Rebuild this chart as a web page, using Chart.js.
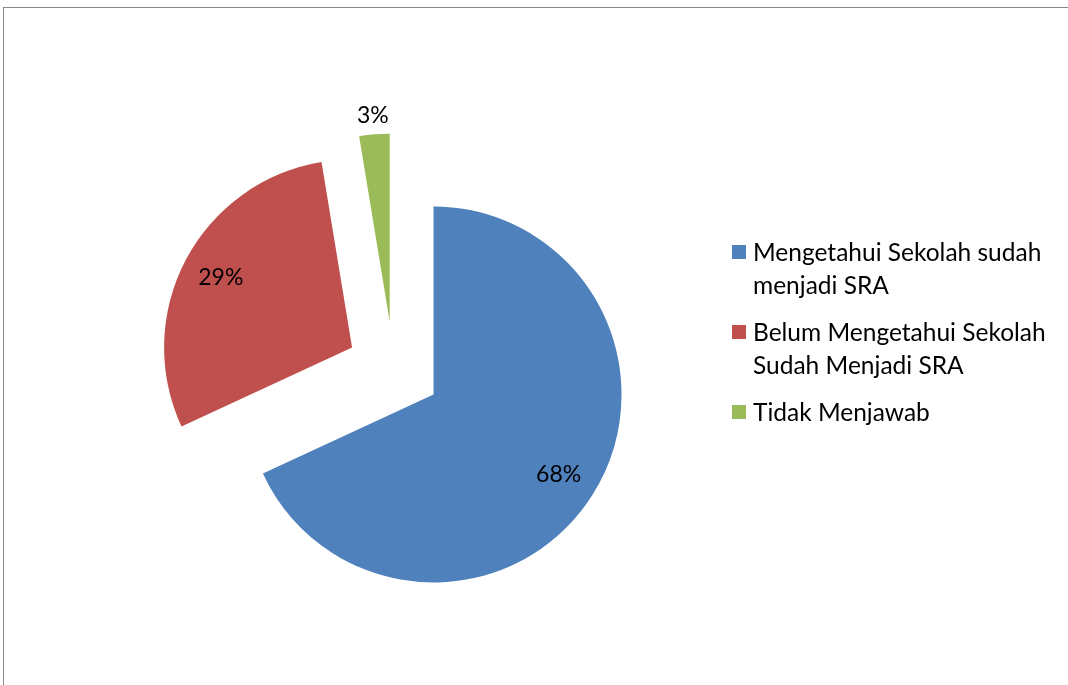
<!DOCTYPE html>
<html>
<head>
<meta charset="utf-8">
<script src="https://cdn.jsdelivr.net/npm/chart.js@4/dist/chart.umd.min.js"></script>
<style type="text/css">
    body { margin: 0; background: #fff; }
    #frame {
        position: absolute; left: 3px; top: 7px;
        width: 1090px; height: 700px;
        border: 1px solid #878787;
    }
    #wrap { position: absolute; left: 0; top: 0; width: 1068px; height: 685px; }
    #legend {
        position: absolute; left: 732px; top: 235px;
        font-family: Lato, sans-serif; font-size: 24.5px; line-height: 33px; color: #000;
    }
    #legend .item { display: flex; align-items: flex-start; margin-bottom: 14px; }
    #legend .box { width: 14px; height: 14px; margin-top: 10px; margin-right: 7px; flex: none; }
    #legend .txt { width: 310px; }
</style>
</head>
<body>
<div id="frame"></div>
<div id="wrap"><canvas id="pieChart" width="1068" height="685"></canvas></div>
<div id="legend"></div>

<script type="text/javascript">
const categories = ['Mengetahui Sekolah sudah menjadi SRA', 'Belum Mengetahui Sekolah Sudah Menjadi SRA', 'Tidak Menjawab'];
const values = [68.1, 29.3, 2.6];
const colors = ['#4f81bd', '#c0504d', '#9bbb59'];

// exploded slices: distance (px) and direction (degrees clockwise from 12 o'clock)
const explodeDist = [0, 94, 85];
const explodeDir = [0, 300, 329];
// where the percent label sits, as a fraction of the radius
const labelRadius = [0.79, 0.79, 1.1];

const total = values.reduce((a, b) => a + b, 0);

const explodePlugin = {
    id: 'explode',
    afterDatasetUpdate(chart, args) {
        args.meta.data.forEach(function (arc, i) {
            const a = explodeDir[i] * Math.PI / 180;
            arc.x += Math.sin(a) * explodeDist[i];
            arc.y -= Math.cos(a) * explodeDist[i];
        });
    }
};

const labelPlugin = {
    id: 'pctLabels',
    afterDatasetsDraw(chart) {
        const ctx = chart.ctx;
        const meta = chart.getDatasetMeta(0);
        ctx.save();
        ctx.font = '23px Lato, sans-serif';
        ctx.fillStyle = '#000';
        ctx.textAlign = 'center';
        ctx.textBaseline = 'middle';
        meta.data.forEach(function (arc, i) {
            const mid = (arc.startAngle + arc.endAngle) / 2;
            const r = arc.outerRadius * labelRadius[i];
            const pct = Math.round(values[i] / total * 100) + '%';
            ctx.fillText(pct, arc.x + Math.cos(mid) * r, arc.y + Math.sin(mid) * r);
        });
        ctx.restore();
    }
};

new Chart(document.getElementById('pieChart'), {
    type: 'pie',
    data: {
        labels: categories,
        datasets: [{
            data: values,
            backgroundColor: colors,
            borderWidth: 0
        }]
    },
    options: {
        responsive: false,
        animation: false,
        radius: 188,
        layout: { padding: { left: 0, right: 201, top: 104, bottom: 0 } },
        plugins: {
            legend: { display: false },
            tooltip: { enabled: false }
        }
    },
    plugins: [explodePlugin, labelPlugin]
});

const legend = document.getElementById('legend');
categories.forEach(function (name, i) {
    const item = document.createElement('div');
    item.className = 'item';
    item.innerHTML = '<span class="box" style="background:' + colors[i] + '"></span><span class="txt">' + name + '</span>';
    legend.appendChild(item);
});
</script>
</body>
</html>
